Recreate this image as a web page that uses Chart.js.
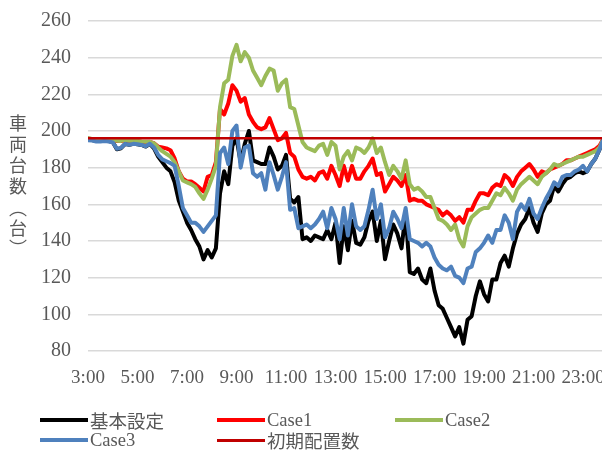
<!DOCTYPE html>
<html>
<head>
<meta charset="utf-8">
<script src="https://cdn.jsdelivr.net/npm/chart.js@4/dist/chart.umd.min.js"></script>
<style>
  html, body { margin: 0; padding: 0; background: #fff; overflow: hidden; }
  #wrap { position: relative; width: 602px; height: 452px; }
  #c { position: absolute; left: 0; top: 0; }
  #legend { position: absolute; left: 0; top: 0; width: 602px; height: 452px; pointer-events: none;
            font-family: "Liberation Serif", "Noto Sans CJK JP", serif; font-size: 18.5px; color: #595959; }
  .item { position: absolute; display: flex; align-items: center; white-space: nowrap; height: 20px; }
  .swatch { width: 48px; margin-right: 2px; }
</style>
</head>
<body>
<div id="wrap">
  <canvas id="c" width="602" height="452"></canvas>
  <div id="legend"></div>
</div>
<script>
// Time grid: one sample every 10 minutes starting at 3:00
const START_MIN = 180;
const STEP_MIN = 10;
const AXIS_END_MIN = 1426;

const tickHours  = [3, 5, 7, 9, 11, 13, 15, 17, 19, 21, 23];
const tickLabels = ['3:00', '5:00', '7:00', '9:00', '11:00', '13:00', '15:00', '17:00', '19:00', '21:00', '23:00'];

const seriesNames = ['基本設定', 'Case1', 'Case2', 'Case3', '初期配置数'];

// Vehicles in service (台), one row per hour, 10-minute steps
const baseCase = [
  195.5, 195, 194.5, 194.5, 194.7, 194.5,
  194, 190, 190.6, 193, 192.5, 193,
  192.8, 192.4, 191.5, 193, 190.5, 186,
  183, 180, 178, 172, 162, 156,
  150, 146, 141, 137, 130, 135,
  131, 136, 166, 178, 171, 192,
  196, 183, 193, 200, 184, 183,
  182, 182, 191, 186, 179, 181,
  187, 163, 161, 164, 141, 142,
  140, 143, 142, 141, 146, 141,
  150, 128, 148, 135, 151, 139,
  138, 142, 151, 156, 140, 151,
  130, 140, 149, 144, 136, 155,
  123, 122, 125, 119, 117, 125,
  113, 105, 103, 98, 93, 88,
  93, 84, 97, 99, 110, 118,
  111, 107, 119, 119, 128, 132,
  126, 136, 144, 149, 152, 158,
  150, 145, 155, 160, 162, 170,
  167, 171, 174, 175, 177, 178,
  177, 178, 182, 185, 190, 196
];

const case1 = [
  196, 195.5, 195.5, 195, 195, 195,
  195, 194.5, 194.5, 195, 194.5, 194.5,
  194.5, 194, 194, 194, 193.3, 191.5,
  191, 190.5, 189.5, 185, 178, 174,
  172.5, 172.5, 171, 169, 167, 175,
  176, 183, 212, 209, 215, 225,
  222, 216, 218, 209, 205, 202,
  201, 202, 207, 201, 195, 196,
  199, 188, 186, 179, 175, 174,
  175, 173, 177, 178, 174, 181,
  176, 170, 181, 173, 181, 174,
  174, 178, 181, 185, 176, 177,
  167, 171, 175, 173, 170, 176,
  162, 163, 162, 162, 160, 159,
  158, 157, 154, 156, 154, 151,
  153, 150, 157, 157, 162, 166,
  166, 165, 169, 171, 170, 176,
  174, 170, 175, 178, 180, 182,
  179, 175, 178, 177, 179, 180,
  181, 182, 184, 184, 185, 186,
  187, 188, 189, 190, 192, 196
];

const case2 = [
  196, 195.6, 195.6, 195.3, 195.2, 195.2,
  195.2, 194.7, 194.6, 195.1, 194.7, 194.6,
  194.6, 194.3, 194.1, 194.1, 193.3, 191,
  189, 187.5, 186, 183, 178, 173,
  172, 171, 169.5, 166, 163, 168,
  174, 181, 213, 226, 228, 241,
  247, 238, 243, 240, 233, 229,
  225, 230, 234, 233, 222, 226,
  228, 213, 212, 203, 194, 191,
  190, 189, 192, 193, 187, 194,
  192, 179, 186, 189, 184, 191,
  190, 188, 191, 196, 188, 191,
  183, 176, 181, 178, 174, 184,
  171, 168, 169, 167, 164, 164,
  158, 152, 151, 149, 146, 149,
  141, 137, 148, 153, 155, 157,
  158, 158, 162, 166, 165, 169,
  166, 162, 168, 171, 173, 175,
  173, 171, 175, 177, 179, 182,
  181, 182, 183, 184, 185, 186,
  186, 187, 188, 189, 191, 196
];

const case3 = [
  195, 194.8, 194.3, 194.3, 194.5, 194.3,
  193.8, 190.3, 190.8, 193, 192.5, 193,
  192.8, 192.4, 191.7, 193, 191, 187,
  184.5, 183.5, 182.5, 181, 170, 158,
  154, 150, 150, 148, 145, 148,
  151, 154, 188, 191, 182, 200,
  203, 180, 191, 192, 177, 175,
  177, 168, 183, 176, 168, 175,
  183, 157, 158, 147, 148, 149,
  147, 149, 152, 156, 147, 158,
  152, 141, 158, 143, 160, 148,
  146, 148, 157, 168, 152, 160,
  142, 147, 156, 152, 147, 158,
  141, 140, 139, 137, 139, 137,
  131, 127, 125, 124, 126, 121,
  120, 117, 125, 126, 134, 136,
  139, 143, 139, 146, 146, 154,
  150, 141, 156, 160, 157, 163,
  155, 152, 158, 163, 167, 172,
  170, 175, 176, 176, 178, 179,
  181, 178, 182, 185, 190, 196
];

const initialFleet = 196;

const seriesColors = ['#000000', '#ff0000', '#9bbb59', '#4f81bd', '#c00000'];

const toPoints = arr => arr.map((v, i) => ({ x: START_MIN + i * STEP_MIN, y: v }));
const lastMin = START_MIN + (baseCase.length - 1) * STEP_MIN;

const lineStyle = (i, width, order) => ({
  label: seriesNames[i],
  borderColor: seriesColors[i],
  backgroundColor: seriesColors[i],
  borderWidth: width,
  pointRadius: 0,
  tension: 0,
  borderJoinStyle: 'round',
  borderCapStyle: 'round',
  order: order
});

const datasets = [
  Object.assign(lineStyle(0, 4, 5), { data: toPoints(baseCase) }),
  Object.assign(lineStyle(1, 4, 4), { data: toPoints(case1) }),
  Object.assign(lineStyle(2, 4, 3), { data: toPoints(case2) }),
  Object.assign(lineStyle(3, 4, 2), { data: toPoints(case3) }),
  Object.assign(lineStyle(4, 2.5, 1), { data: [{ x: START_MIN, y: initialFleet }, { x: lastMin, y: initialFleet }] })
];

// Vertical axis title, one character per line
const yTitleChars = ['車', '両', '台', '数', '︵', '台', '︶'];
const yTitleY     = [123, 144, 165, 186, 208, 228, 248];

const yTitlePlugin = {
  id: 'yTitle',
  afterDraw(chart) {
    const ctx = chart.ctx;
    ctx.save();
    ctx.fillStyle = '#595959';
    ctx.font = '18px "Noto Sans CJK JP"';
    ctx.textAlign = 'center';
    ctx.textBaseline = 'middle';
    yTitleChars.forEach((ch, i) => ctx.fillText(ch, 18, yTitleY[i]));
    ctx.restore();
  }
};

new Chart(document.getElementById('c'), {
  type: 'line',
  data: { datasets },
  options: {
    responsive: false,
    animation: false,
    layout: { padding: { top: 21, right: 0, bottom: 61, left: 0 } },
    plugins: { legend: { display: false }, tooltip: { enabled: false } },
    scales: {
      x: {
        type: 'linear',
        min: START_MIN,
        max: AXIS_END_MIN,
        afterBuildTicks: s => { s.ticks = tickHours.map(h => ({ value: h * 60 })); },
        afterFit: s => { s.paddingLeft = 0; s.paddingRight = 0; s.height = 40; },
        grid: { display: false, drawTicks: false },
        border: { display: false },
        ticks: {
          autoSkip: false, maxRotation: 0, padding: 16, color: '#595959',
          font: { family: '"Liberation Serif"', size: 19 },
          callback: (v, i) => tickLabels[i]
        }
      },
      y: {
        min: 80,
        max: 260,
        afterFit: s => { s.width = 88; s.paddingTop = 0; s.paddingBottom = 0; },
        grid: { color: '#d9d9d9', lineWidth: 1.5, drawTicks: false },
        border: { display: false },
        ticks: {
          stepSize: 20, padding: 17, color: '#595959',
          font: { family: '"Liberation Serif"', size: 20 }
        }
      }
    }
  },
  plugins: [yTitlePlugin]
});

// Legend laid out in three columns, two rows
const legendPos = [[40, 410], [217, 410], [395, 410], [40, 430], [217, 430]];
const legendEl = document.getElementById('legend');
seriesNames.forEach((name, i) => {
  const item = document.createElement('div');
  item.className = 'item';
  item.style.left = legendPos[i][0] + 'px';
  item.style.top = legendPos[i][1] + 'px';
  const sw = document.createElement('span');
  sw.className = 'swatch';
  sw.style.height = (i === 4 ? 3 : 3.5) + 'px';
  sw.style.background = seriesColors[i];
  const tx = document.createElement('span');
  tx.textContent = name;
  item.appendChild(sw);
  item.appendChild(tx);
  legendEl.appendChild(item);
});
</script>
</body>
</html>
